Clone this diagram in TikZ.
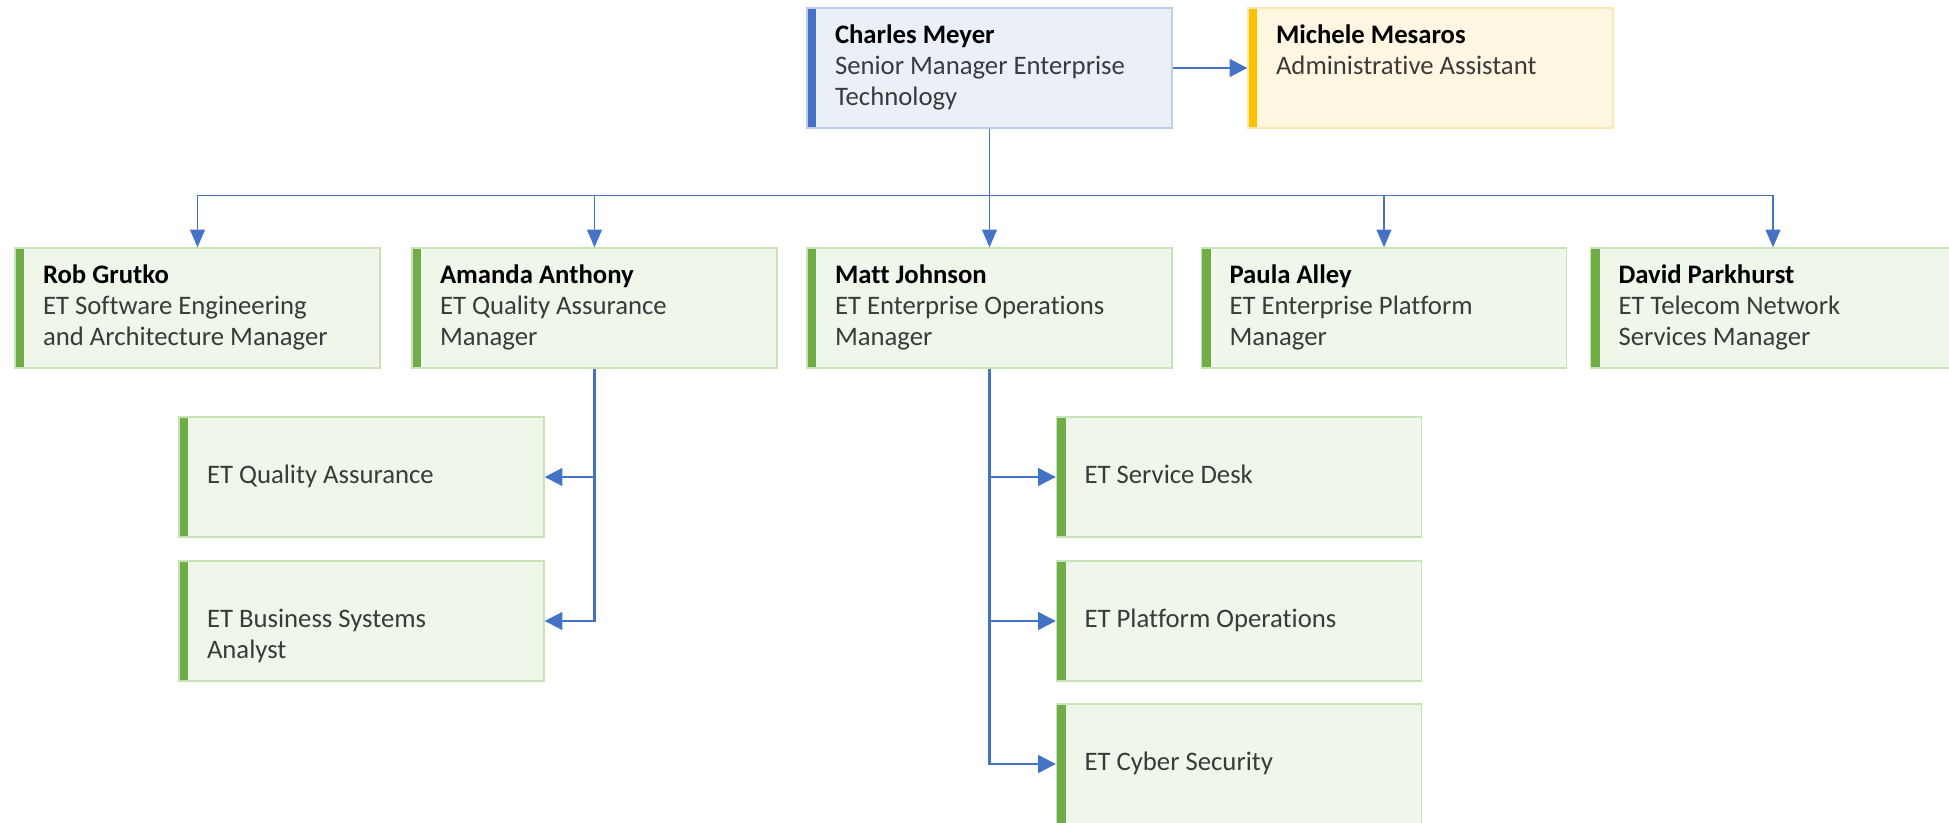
\documentclass[tikz,border=0pt]{standalone}
\usepackage{fontspec}
\setmainfont{Carlito}[Ligatures={NoCommon}]
\usepackage{xcolor}
\usepackage{tikz}
\usetikzlibrary{arrows.meta,calc}

\definecolor{etblue}{HTML}{4472C4}
\definecolor{bluefill}{HTML}{EAEFF8}
\definecolor{blueborder}{HTML}{BDCEEB}
\definecolor{goldbar}{HTML}{FFC000}
\definecolor{goldfill}{HTML}{FFF7E2}
\definecolor{goldborder}{HTML}{FFE9B0}
\definecolor{greenbar}{HTML}{70AD47}
\definecolor{greenfill}{HTML}{EFF6EA}
\definecolor{greenborder}{HTML}{C9E3B8}
\definecolor{titlegray}{HTML}{3A3A3A}

\newcommand{\cardtext}[2]{\parbox[c][1.2cm][t]{3.09cm}{\raggedright\rule{0pt}{10.2pt}{\color{black}\bfseries #1}\\#2}}

\tikzset{
    card/.style n args={3}{rectangle,draw=#2,fill=#1,line width=0.4pt,
        inner xsep=0.28cm,inner ysep=0pt,minimum width=3.65cm,minimum height=1.2cm,
        path picture={\fill[#3] (path picture bounding box.north west) rectangle
            ([xshift=0.09cm]path picture bounding box.south west);}},
    bluecard/.style={card={bluefill}{blueborder}{etblue}},
    goldcard/.style={card={goldfill}{goldborder}{goldbar}},
    greencard/.style={card={greenfill}{greenborder}{greenbar}},
    link/.style={draw=etblue,line width=0.6pt,-{Triangle[length=5pt,width=5pt]}},
    bus/.style={draw=etblue,line width=0.4pt,-{Triangle[length=5pt,width=4.2pt]}}
}

\begin{document}
\begin{tikzpicture}[font=\fontsize{7.6}{8.8}\selectfont,text=titlegray]
    \useasboundingbox[fill=white] (0,0) rectangle (19.49,-8.23);

    % Senior manager
    \node[bluecard] (charles) at (9.895,-0.68) {\cardtext{Charles Meyer}{Senior Manager Enterprise\\Technology}};

    % Assistant
    \node[goldcard] (michele) at (14.305,-0.68) {\cardtext{Michele Mesaros}{Administrative Assistant}};

    % Managers
    \node[greencard] (rob) at (1.975,-3.08) {\cardtext{Rob Grutko}{ET Software Engineering\\and Architecture Manager}};
    \node[greencard] (amanda) at (5.945,-3.08) {\cardtext{Amanda Anthony}{ET Quality Assurance\\Manager}};
    \node[greencard] (matt) at (9.895,-3.08) {\cardtext{Matt Johnson}{ET Enterprise Operations\\Manager}};
    \node[greencard] (paula) at (13.84,-3.08) {\cardtext{Paula Alley}{ET Enterprise Platform\\Manager}};
    \node[greencard] (david) at (17.73,-3.08) {\cardtext{David Parkhurst}{ET Telecom Network\\Services Manager}};

    % Quality assurance teams
    \node[greencard] (qa) at (3.615,-4.77) {\cardtext{}{ET Quality Assurance}};
    \node[greencard] (bsa) at (3.615,-6.21) {\cardtext{}{ET Business Systems\\Analyst}};

    % Operations teams
    \node[greencard] (desk) at (12.39,-4.77) {\cardtext{}{ET Service Desk}};
    \node[greencard] (platform) at (12.39,-6.21) {\cardtext{}{ET Platform Operations}};
    \node[greencard] (cyber) at (12.39,-7.64) {\cardtext{}{ET Cyber Security}};

    % Arrows
    \draw[link] (charles) -- (michele);
    \foreach \m in {rob, amanda, matt, paula, david} {
        \draw[bus] (charles.south) -- ++(0,-0.67) -| (\m.north);
    }
    \foreach \t in {qa, bsa} {
        \draw[link] (amanda.south) |- (\t.east);
    }
    \foreach \t in {desk, platform, cyber} {
        \draw[link] (matt.south) |- (\t.west);
    }
\end{tikzpicture}
\end{document}
